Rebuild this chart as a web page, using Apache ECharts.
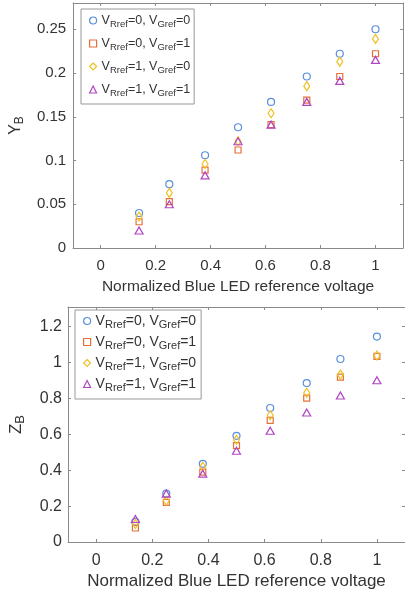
<!DOCTYPE html>
<html><head><meta charset="utf-8">
<script src="https://cdn.jsdelivr.net/npm/echarts@6/dist/echarts.min.js"></script>
<style>html,body{margin:0;padding:0;background:#fff}#c{width:405px;height:597px}</style>
</head><body><div id="c"></div>
<script>
// ---- data ----
const xVals = [0.14, 0.25, 0.38, 0.5, 0.62, 0.75, 0.87, 1.0];
const yB_R0G0 = [0.040, 0.073, 0.106, 0.138, 0.167, 0.196, 0.222, 0.250];
const yB_R0G1 = [0.030, 0.053, 0.089, 0.112, 0.141, 0.169, 0.196, 0.222];
const yB_R1G0 = [0.036, 0.063, 0.096, 0.122, 0.154, 0.185, 0.213, 0.239];
const yB_R1G1 = [0.020, 0.050, 0.083, 0.122, 0.141, 0.167, 0.191, 0.215];
const zB_R0G0 = [0.112, 0.270, 0.436, 0.592, 0.747, 0.886, 1.020, 1.145];
const zB_R0G1 = [0.078, 0.221, 0.390, 0.537, 0.678, 0.802, 0.919, 1.035];
const zB_R1G0 = [0.100, 0.230, 0.420, 0.570, 0.707, 0.832, 0.933, 1.040];
const zB_R1G1 = [0.128, 0.270, 0.381, 0.509, 0.620, 0.722, 0.817, 0.902];
const xTicks = [0, 0.2, 0.4, 0.6, 0.8, 1];
const yTicksTop = [0, 0.05, 0.1, 0.15, 0.2, 0.25];
const yTicksBottom = [0, 0.2, 0.4, 0.6, 0.8, 1, 1.2];
const seriesNames = ['VRref=0, VGref=0', 'VRref=0, VGref=1', 'VRref=1, VGref=0', 'VRref=1, VGref=1'];
const rVals = [0, 0, 1, 1];
const gVals = [0, 1, 0, 1];
const xTitle = 'Normalized Blue LED reference voltage';

// ---- style ----
const FONT = '"Liberation Sans", Arial, sans-serif';
const colors = ['#5a8fdc', '#e5703a', '#f0c020', '#b146c2'];
const symbols = ['circle', 'rect', 'diamond', 'triangle'];
const sizes = [7, 6, [6, 9], [8, 7]];
const axisColor = '#8a8a8a';
const textColor = '#333';

const chart = echarts.init(document.getElementById('c'), null, {renderer: 'canvas'});

function xAxis(grid, pos, labels, fs, tfs, margin, gap) {
  return {
    type: 'value', gridIndex: grid, position: pos, min: -0.1, max: 1.1,
    name: labels ? xTitle : '', nameLocation: 'middle', nameGap: gap,
    nameTextStyle: {fontFamily: FONT, fontSize: tfs, color: textColor},
    axisLine: {show: true, onZero: false, lineStyle: {color: axisColor, width: 1}},
    axisTick: {show: true, inside: true, length: 3, customValues: xTicks, lineStyle: {color: axisColor}},
    axisLabel: {show: labels, customValues: xTicks, fontFamily: FONT, fontSize: fs, color: textColor, margin: margin},
    splitLine: {show: false}
  };
}
function yAxis(grid, pos, labels, max, ticks, letter, fs, margin, gap) {
  return {
    type: 'value', gridIndex: grid, position: pos, min: 0, max: max,
    name: labels ? '{m|' + letter + '}{s|B}' : '', nameLocation: 'middle', nameGap: gap, nameRotate: 90,
    nameTextStyle: {fontFamily: FONT, color: textColor,
      rich: {m: {fontFamily: FONT, fontSize: fs + 1, color: textColor},
             s: {fontFamily: FONT, fontSize: fs - 3, color: textColor, padding: [8, 0, 0, 0]}}},
    axisLine: {show: true, onZero: false, lineStyle: {color: axisColor, width: 1}},
    axisTick: {show: true, inside: true, length: 3, customValues: ticks, lineStyle: {color: axisColor}},
    axisLabel: {show: labels, customValues: ticks, fontFamily: FONT, fontSize: fs, color: textColor, margin: margin},
    splitLine: {show: false}
  };
}
function legend(left, top, fs, gap, pad) {
  return {
    orient: 'vertical', left: left, top: top,
    padding: pad, itemGap: gap, itemWidth: 7, itemHeight: 7, itemTextGap: 9,
    borderColor: '#999', borderWidth: 1, backgroundColor: '#fff',
    data: seriesNames.map((n, i) => ({name: n, icon: symbols[i],
      itemStyle: {color: 'rgba(0,0,0,0)', borderColor: colors[i], borderWidth: 1.2}})),
    formatter: function (name) {
      const i = seriesNames.indexOf(name);
      return '{v|V}{s|Rref}{v|=' + rVals[i] + ', V}{s|Gref}{v|=' + gVals[i] + '}';
    },
    textStyle: {fontFamily: FONT, color: textColor,
      rich: {v: {fontFamily: FONT, fontSize: fs, color: textColor},
             s: {fontFamily: FONT, fontSize: fs - 3, color: textColor, padding: [7, 0, 0, 0]}}}
  };
}
const topSets = [yB_R0G0, yB_R0G1, yB_R1G0, yB_R1G1];
const botSets = [zB_R0G0, zB_R0G1, zB_R1G0, zB_R1G1];
const series = [];
[topSets, botSets].forEach((sets, g) => {
  sets.forEach((vals, i) => {
    series.push({
      type: 'scatter', name: seriesNames[i], xAxisIndex: g * 2, yAxisIndex: g * 2,
      symbol: symbols[i], symbolSize: sizes[i],
      itemStyle: {color: 'rgba(0,0,0,0)', borderColor: colors[i], borderWidth: 1.2, opacity: 1},
      emphasis: {disabled: true},
      data: xVals.map((x, k) => [x, vals[k]])
    });
  });
});

chart.setOption({
  backgroundColor: '#fff',
  animation: false,
  grid: [
    {left: 71, top: 3, width: 332, height: 245},
    {left: 64, top: 307, width: 345, height: 235}
  ],
  xAxis: [xAxis(0, 'bottom', true, 15, 15.5, 10, 31), xAxis(0, 'top', false, 15, 15.5, 10, 31),
          xAxis(1, 'bottom', true, 16, 17, 11, 31), xAxis(1, 'top', false, 16, 17, 11, 31)],
  yAxis: [yAxis(0, 'left', true, 0.28, yTicksTop, 'Y', 15, 7, 44), yAxis(0, 'right', false, 0.28, yTicksTop, 'Y', 15, 7, 44),
          yAxis(1, 'left', true, 1.31, yTicksBottom, 'Z', 16, 6, 41), yAxis(1, 'right', false, 1.31, yTicksBottom, 'Z', 16, 6, 41)],
  legend: [legend(81, 9, 12.5, 8, [5, 4, 6, 8]), legend(75, 310, 14, 5, [4, 5, 6, 8])],
  series: series
});
</script></body></html>
